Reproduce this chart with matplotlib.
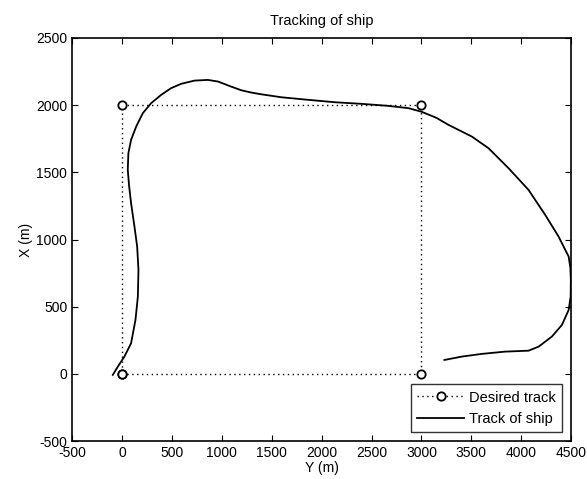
import matplotlib
matplotlib.use("Agg")
import matplotlib.pyplot as plt

plt.rcParams['font.family'] = ['Liberation Sans', 'DejaVu Sans']
plt.rcParams['axes.unicode_minus'] = False

# Desired waypoint track (Y, X) in metres
desired_y = [0, 3000, 3000, 0, 0]
desired_x = [0, 0, 2000, 2000, 0]

# Ship trajectory (Y, X) in metres
ship_y = [-93, -43, 23, 90, 134, 158, 164, 151, 124, 90, 70, 57, 63, 90, 141,
          208, 291, 392, 492, 592, 726, 860, 961, 1094, 1195, 1295, 1396, 1596,
          1864, 2132, 2400, 2668, 2869, 3002, 3150, 3270, 3504, 3672, 3873, 4073,
          4240, 4374, 4475, 4492, 4497, 4495, 4475, 4408, 4307, 4174, 4073, 3838,
          3604, 3404, 3230]
ship_x = [-7, 54, 129, 228, 402, 575, 774, 947, 1096, 1270, 1400, 1518, 1642,
          1741, 1840, 1940, 2014, 2076, 2126, 2158, 2182, 2187, 2175, 2137, 2110,
          2093, 2080, 2058, 2039, 2021, 2009, 1994, 1977, 1950, 1905, 1853, 1766,
          1679, 1530, 1369, 1183, 1022, 873, 790, 699, 575, 476, 365, 278, 203,
          173, 166, 149, 129, 104]

xticks = list(range(-500, 4501, 500))
yticks = list(range(-500, 2501, 500))

fig = plt.figure(figsize=(5.87, 4.79), dpi=100)
ax = fig.add_axes([0.123, 0.079, 0.850, 0.842])

ax.plot(desired_y, desired_x, linestyle=(0, (1, 2.5)), color='black', linewidth=1.0,
        marker='o', markersize=6, markerfacecolor='white', markeredgecolor='black',
        markeredgewidth=1.3, label='Desired track')
ax.plot(ship_y, ship_x, color='black', linewidth=1.3, label='Track of ship')

ax.set_xlim(-500, 4500)
ax.set_ylim(-500, 2500)
ax.set_xticks(xticks)
ax.set_yticks(yticks)
ax.tick_params(direction='in', top=True, right=True, labelsize=10, length=4)
for s in ax.spines.values():
    s.set_linewidth(1.2)

ax.set_title('Tracking of ship', fontsize=10.5, pad=9)
ax.set_xlabel('Y (m)', fontsize=10, labelpad=1)
ax.set_ylabel('X (m)', fontsize=10, labelpad=2)

leg = ax.legend(loc='lower right', fontsize=10.5, frameon=True, fancybox=False,
                edgecolor='black', borderaxespad=0.6, handlelength=3.2,
                handletextpad=0.35, borderpad=0.45, labelspacing=0.5)
leg.get_frame().set_linewidth(1.0)

fig.savefig('out.png', dpi=100)
